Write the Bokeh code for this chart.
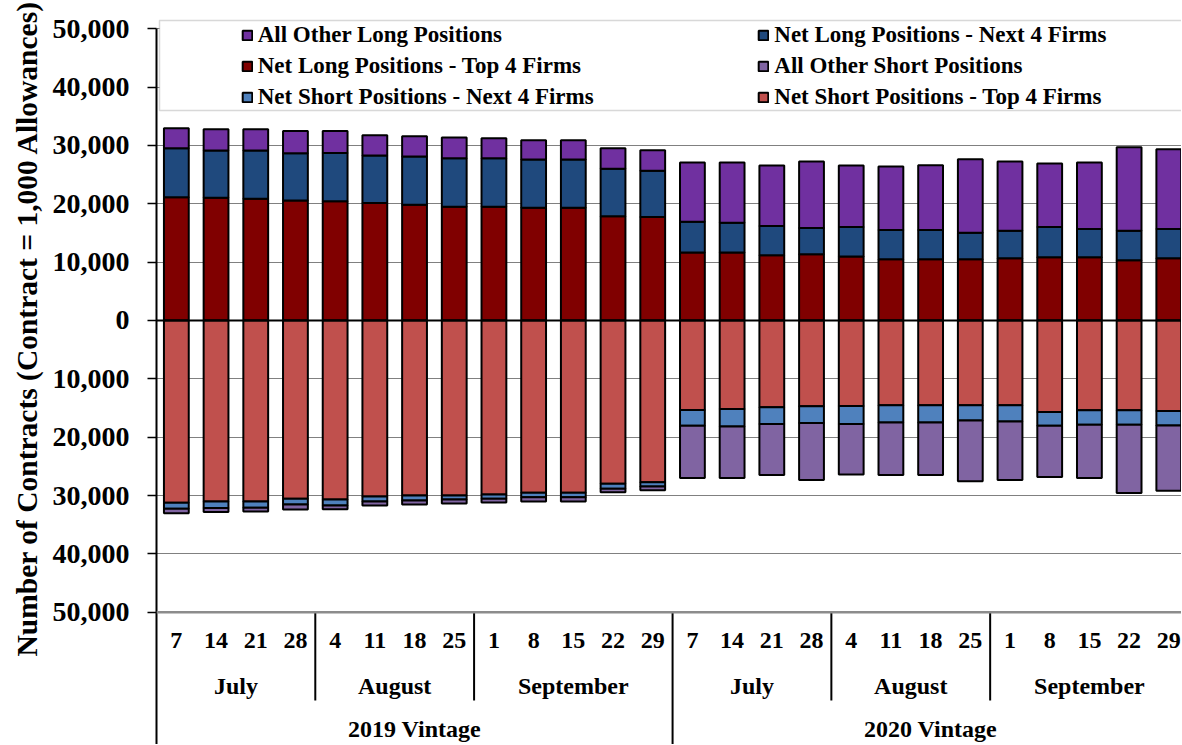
import numpy as np
from bokeh.plotting import figure
from bokeh.models import (ColumnDataSource, FixedTicker, Legend, LegendItem, Range1d,
                          Span, BoxAnnotation, Title)
from bokeh.embed import file_html
from bokeh.resources import INLINE
from bokeh.core.properties import value

# ---------------- data ----------------
vintages = ["2019 Vintage", "2020 Vintage"]
months = ["July", "August", "September"]
month_days = [["7", "14", "21", "28"], ["4", "11", "18", "25"], ["1", "8", "15", "22", "29"]]

long_top4 = [21130, 21020, 20850, 20560, 20450, 20160, 19820, 19480, 19480, 19310, 19310, 17890, 17720,
             11640, 11640, 11190, 11360, 10960, 10510, 10510, 10510, 10680, 10850, 10850, 10340, 10680]
long_next4 = [8410, 8120, 8290, 8120, 8240, 8120, 8290, 8350, 8350, 8290, 8290, 8120, 7950,
              5280, 5110, 5000, 4490, 5060, 5000, 5000, 4540, 4710, 5170, 4830, 5050, 5000]
long_other = [3410, 3640, 3640, 3810, 3810, 3470, 3470, 3520, 3410, 3290, 3290, 3520, 3520,
              10170, 10340, 10390, 11420, 10560, 10900, 11080, 12610, 11870, 10900, 11420, 14310, 13690]
short_top4 = [31240, 31010, 31010, 30560, 30670, 30160, 29990, 29990, 29820, 29540, 29540, 28000, 27720,
              15340, 15170, 14880, 14710, 14650, 14540, 14540, 14540, 14540, 15680, 15390, 15390, 15510]
short_next4 = [1020, 1140, 1080, 970, 1020, 850, 850, 680, 740, 740, 740, 850, 740,
               2720, 3010, 2840, 2840, 3070, 2950, 2950, 2610, 2780, 2380, 2500, 2500, 2500]
short_other = [800, 680, 630, 850, 680, 680, 680, 680, 620, 740, 740, 570, 620,
               8920, 8800, 8750, 9770, 8690, 8980, 8980, 10390, 10000, 8750, 9090, 11700, 11190]

y_ticks = list(range(-50000, 50001, 10000))

legend_col1 = ["All Other Long Positions", "Net Long Positions - Top 4 Firms",
               "Net Short Positions - Next 4 Firms"]
legend_col2 = ["Net Long Positions - Next 4 Firms", "All Other Short Positions",
               "Net Short Positions - Top 4 Firms"]

y_title = "Number of Contracts (Contract = 1,000 Allowances)"

# ---------------- layout constants ----------------
FONT = value("Liberation Serif")
W, H = 1181, 744
Y_START, Y_END = -72678, 51765

days = []
for v in vintages:
    for dl in month_days:
        days.extend(dl)
n = len(days)
xs = np.arange(n) + 0.5

src = ColumnDataSource(dict(
    x=xs,
    l_top4=long_top4, l_next4=long_next4, l_other=long_other,
    s_top4=[-v for v in short_top4], s_next4=[-v for v in short_next4],
    s_other=[-v for v in short_other],
))

p = figure(width=W, height=H, x_range=Range1d(0, 25.82), y_range=Range1d(Y_START, Y_END),
           output_backend="svg", toolbar_location=None, x_axis_location=None,
           min_border_left=156, min_border_right=0, min_border_top=18, min_border_bottom=0)
p.outline_line_color = None
p.xgrid.visible = False
p.ygrid.ticker = FixedTicker(ticks=y_ticks)
p.ygrid.grid_line_color = "#808080"
p.ygrid.grid_line_width = 1

pos = p.vbar_stack(["l_top4", "l_next4", "l_other"], x="x", width=0.625, source=src,
                   fill_color=["#800000", "#1F497D", "#7030A0"], line_color="black", line_width=2)
neg = p.vbar_stack(["s_top4", "s_next4", "s_other"], x="x", width=0.625, source=src,
                   fill_color=["#C0504D", "#4F81BD", "#8064A2"], line_color="black", line_width=2)

p.add_layout(Span(location=0, dimension="width", line_color="black", line_width=2))
p.add_layout(Span(location=-50000, dimension="width", line_color="#8c8c8c", line_width=2.5))

# y axis
ax = p.yaxis[0]
ax.ticker = FixedTicker(ticks=y_ticks)
ax.major_label_overrides = {t: f"{abs(t):,}" for t in y_ticks}
ax.major_label_text_font = "Liberation Serif"
ax.major_label_text_font_style = "bold"
ax.major_label_text_font_size = "28px"
ax.major_label_text_color = "black"
ax.major_label_standoff = 18
ax.major_tick_out = 9
ax.major_tick_in = 0
ax.major_tick_line_width = 1.5
ax.minor_tick_out = 0
ax.minor_tick_in = 0
ax.axis_line_width = 2
ax.bounds = (Y_START, 50000)

p.add_layout(Title(text=y_title, align="left", offset=88, standoff=14,
                   text_font="Liberation Serif", text_font_style="bold", text_font_size="29.5px",
                   text_color="black"), "left")

# category labels
p.text(x=xs, y=[-54900] * n, text=days, text_font=FONT, text_font_style="bold",
       text_font_size="24px", text_align="center", text_baseline="middle", text_color="black")

m_x, m_t, seps = [], [], []
start = 0
for v in vintages:
    for m, dl in zip(months, month_days):
        m_x.append(start + len(dl) / 2)
        m_t.append(m)
        start += len(dl)
        seps.append(start)
p.text(x=m_x, y=[-62735] * len(m_x), text=m_t, text_font=FONT, text_font_style="bold",
       text_font_size="24px", text_align="center", text_baseline="middle", text_color="black")

v_x = [n / 4, 3 * n / 4]
p.text(x=v_x, y=[-70100] * 2, text=vintages, text_font=FONT, text_font_style="bold",
       text_font_size="24px", text_align="center", text_baseline="middle", text_color="black")

half = n // 2
sx, sy0, sy1 = [], [], []
for s in seps[:-1]:
    sx.append(s)
    sy0.append(-50000)
    sy1.append(Y_START if s == half else -65135)
p.segment(x0=sx, y0=sy0, x1=sx, y1=sy1, line_color="black", line_width=2)

# legend box + legends
p.add_layout(BoxAnnotation(left=0.076, right=40, top=51423, bottom=36000, fill_color="white",
                           fill_alpha=1, line_color="#7f7f7f", line_width=1.5))

r_by_label = {
    "All Other Long Positions": pos[2], "Net Long Positions - Next 4 Firms": pos[1],
    "Net Long Positions - Top 4 Firms": pos[0], "All Other Short Positions": neg[2],
    "Net Short Positions - Next 4 Firms": neg[1], "Net Short Positions - Top 4 Firms": neg[0],
}
for labels, lx in ((legend_col1, 84.7), (legend_col2, 601.3)):
    lg = Legend(items=[LegendItem(label=l, renderers=[r_by_label[l]]) for l in labels],
                location=(lx, 633), orientation="vertical", padding=0, margin=0,
                spacing=3, glyph_width=12, glyph_height=12, label_height=28,
                label_standoff=5, border_line_color=None, background_fill_alpha=0,
                label_text_font="Liberation Serif", label_text_font_style="bold",
                label_text_font_size="23px", label_text_color="black")
    p.add_layout(lg)

open("out.html", "w").write(file_html(p, INLINE))
